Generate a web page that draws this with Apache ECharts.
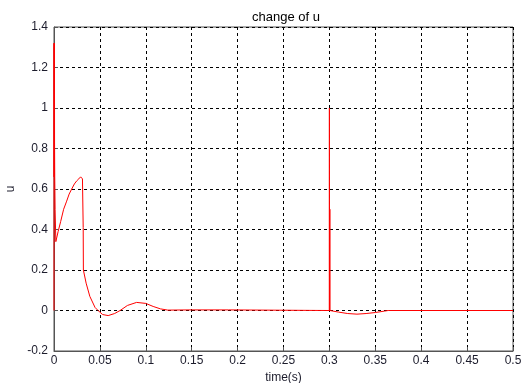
<!DOCTYPE html>
<html>
<head>
<meta charset="utf-8">
<script src="https://cdn.jsdelivr.net/npm/echarts@6/dist/echarts.min.js"></script>
<style>
  html, body { margin: 0; padding: 0; background: #fff; }
  #chart { width: 525px; height: 383px; }
</style>
</head>
<body>
<div id="chart"></div>
<script>
// Control signal u over time (s)
const timeValues = [
  0, 0.0001, 0.0002, 0.0003, 0.0004, 0.0005, 0.0006, 0.0008, 0.0012, 0.002,
  0.0045, 0.0073, 0.0105, 0.0138, 0.0165, 0.0193, 0.0222, 0.0247, 0.027, 0.029,
  0.0305, 0.031, 0.0318, 0.032, 0.035, 0.039, 0.0447, 0.048, 0.053, 0.059,
  0.066, 0.072, 0.08, 0.09, 0.1, 0.108, 0.116, 0.124, 0.15, 0.19,
  0.191, 0.2999, 0.3, 0.3001, 0.3002, 0.3003, 0.3004, 0.3005, 0.301, 0.31,
  0.32, 0.33, 0.34, 0.35, 0.36, 0.364, 0.5
];
const uValues = [
  0, 1.32, 0.66, 1.32, 0.66, 1.3, 0.83, 0.66, 0.5, 0.34,
  0.39, 0.44, 0.5, 0.54, 0.575, 0.6, 0.625, 0.64, 0.65, 0.66,
  0.655, 0.65, 0.41, 0.2, 0.135, 0.07, 0.015, 0, -0.02, -0.025,
  -0.015, 0, 0.025, 0.04, 0.035, 0.02, 0.008, 0.002, 0.003, 0.003,
  0, 0, 1.0, 0, 0.5, 0, 0.5, 0, 0, -0.008,
  -0.015, -0.018, -0.015, -0.01, -0.003, 0, 0
];
const xTicks = { min: 0, max: 0.5, step: 0.05 };
const yTicks = { min: -0.2, max: 1.4, step: 0.2 };

const points = timeValues.map((t, i) => [t, uValues[i]]);

const chart = echarts.init(document.getElementById('chart'), null, { renderer: 'canvas' });
const labelFont = { color: '#1c1c2c', fontSize: 12, fontFamily: 'Liberation Sans, Arial, sans-serif' };
const gridLine = { show: true, lineStyle: { color: '#000', type: [3, 3], width: 1 } };

chart.setOption({
  backgroundColor: '#fff',
  animation: false,
  title: {
    text: 'change of u',
    left: 281, top: 6, textAlign: 'center',
    textStyle: { fontSize: 13, fontWeight: 'normal', color: '#000', fontFamily: 'Liberation Sans, Arial, sans-serif' }
  },
  grid: {
    left: 54, right: 12, top: 27, bottom: 32,
    containLabel: false, outerBoundsMode: 'none',
    show: true, borderColor: '#555', borderWidth: 1, backgroundColor: '#fff'
  },
  xAxis: {
    type: 'value',
    min: xTicks.min, max: xTicks.max, interval: xTicks.step,
    name: 'time(s)', nameLocation: 'middle', nameGap: 18,
    nameTextStyle: labelFont,
    axisLine: { show: true, onZero: false, lineStyle: { color: '#555' } },
    axisTick: { show: true, inside: true, length: 4, lineStyle: { color: '#555' } },
    axisLabel: Object.assign({ margin: 4, formatter: v => String(+v.toFixed(2)) }, labelFont),
    splitLine: gridLine
  },
  yAxis: {
    type: 'value',
    min: yTicks.min, max: yTicks.max, interval: yTicks.step,
    name: 'u', nameLocation: 'middle', nameGap: 37, nameRotate: 90,
    nameTextStyle: labelFont,
    axisLine: { show: true, onZero: false, lineStyle: { color: '#555' } },
    axisTick: { show: true, inside: true, length: 4, lineStyle: { color: '#555' } },
    axisLabel: Object.assign({ margin: 6, formatter: v => String(+v.toFixed(1)) }, labelFont),
    splitLine: gridLine
  },
  series: [{
    type: 'line',
    data: points,
    showSymbol: false,
    lineStyle: { color: '#ff0000', width: 1 },
    z: 5
  }]
});
</script>
</body>
</html>
